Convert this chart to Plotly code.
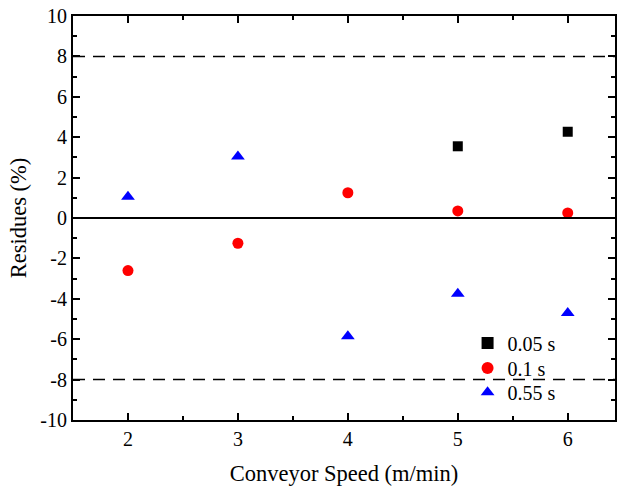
import plotly.graph_objects as go

speed_005 = [5, 6]
res_005 = [3.55, 4.27]
speed_01 = [2, 3, 4, 5, 6]
res_01 = [-2.6, -1.25, 1.25, 0.35, 0.25]
speed_055 = [2, 3, 4, 5, 6]
res_055 = [1.05, 3.05, -5.85, -3.75, -4.7]
limits = [8, -8]
y_ticks = [-10, -8, -6, -4, -2, 0, 2, 4, 6, 8, 10]
y_ticktext = ["-10", "-8", "-6", "-4", "-2", "0", "2", "4", "6", "8", "10"]
x_ticks = [2, 3, 4, 5, 6]

FONT = "Times New Roman"

fig = go.Figure()
for lim in limits:
    fig.add_hline(y=lim, line=dict(color="black", width=1.5, dash="12px,8px"))
fig.add_hline(y=0, line=dict(color="black", width=2))

fig.add_trace(go.Scatter(x=speed_005, y=res_005, mode="markers", name="0.05 s", legend="legend",
                         showlegend=True,
                         marker=dict(symbol="square", color="black", size=10)))
fig.add_trace(go.Scatter(x=speed_01, y=res_01, mode="markers", name="0.1 s", legend="legend2",
                         showlegend=True,
                         marker=dict(symbol="circle", color="red", size=11)))
fig.add_trace(go.Scatter(x=speed_055, y=res_055, mode="markers", name="0.55 s", legend="legend3",
                         showlegend=True,
                         marker=dict(symbol="triangle-up", color="blue", size=12)))

axis_common = dict(showline=True, linecolor="black", linewidth=2, mirror="allticks",
                   ticks="inside", ticklen=7, tickwidth=1.5, tickcolor="black",
                   showgrid=False, zeroline=False,
                   tickfont=dict(family=FONT, size=20, color="black"))

fig.update_xaxes(range=[1.5, 6.43], tickvals=x_ticks,
                 minor=dict(ticks="inside", ticklen=4, tickwidth=1.5, tickcolor="black", dtick=0.5, tick0=1.5),
                 title=dict(text="Conveyor Speed (m/min)", font=dict(family=FONT, size=22.5, color="black"), standoff=16),
                 **axis_common)
fig.update_yaxes(range=[-10, 10], tickvals=y_ticks, ticktext=y_ticktext,
                 minor=dict(ticks="inside", ticklen=4, tickwidth=1.5, tickcolor="black", dtick=1),
                 title=dict(text="Residues (%)", font=dict(family=FONT, size=22.5, color="black"), standoff=7),
                 **axis_common)

leg = dict(xanchor="left", yanchor="top", bgcolor="rgba(0,0,0,0)", visible=True,
           font=dict(family=FONT, size=20, color="black"), itemsizing="constant")
fig.update_layout(
    width=622, height=491,
    margin=dict(l=73, r=5, t=15, b=71),
    plot_bgcolor="white", paper_bgcolor="white",
    font=dict(family=FONT, color="black"),
    showlegend=True,
    legend=dict(x=0.728, y=0.239, **leg),
    legend2=dict(x=0.728, y=0.177, **leg),
    legend3=dict(x=0.728, y=0.117, **leg),
)

fig.write_html("out.html", config={"displayModeBar": False},
               post_script="document.body.style.margin='0';document.body.style.padding='0';")
